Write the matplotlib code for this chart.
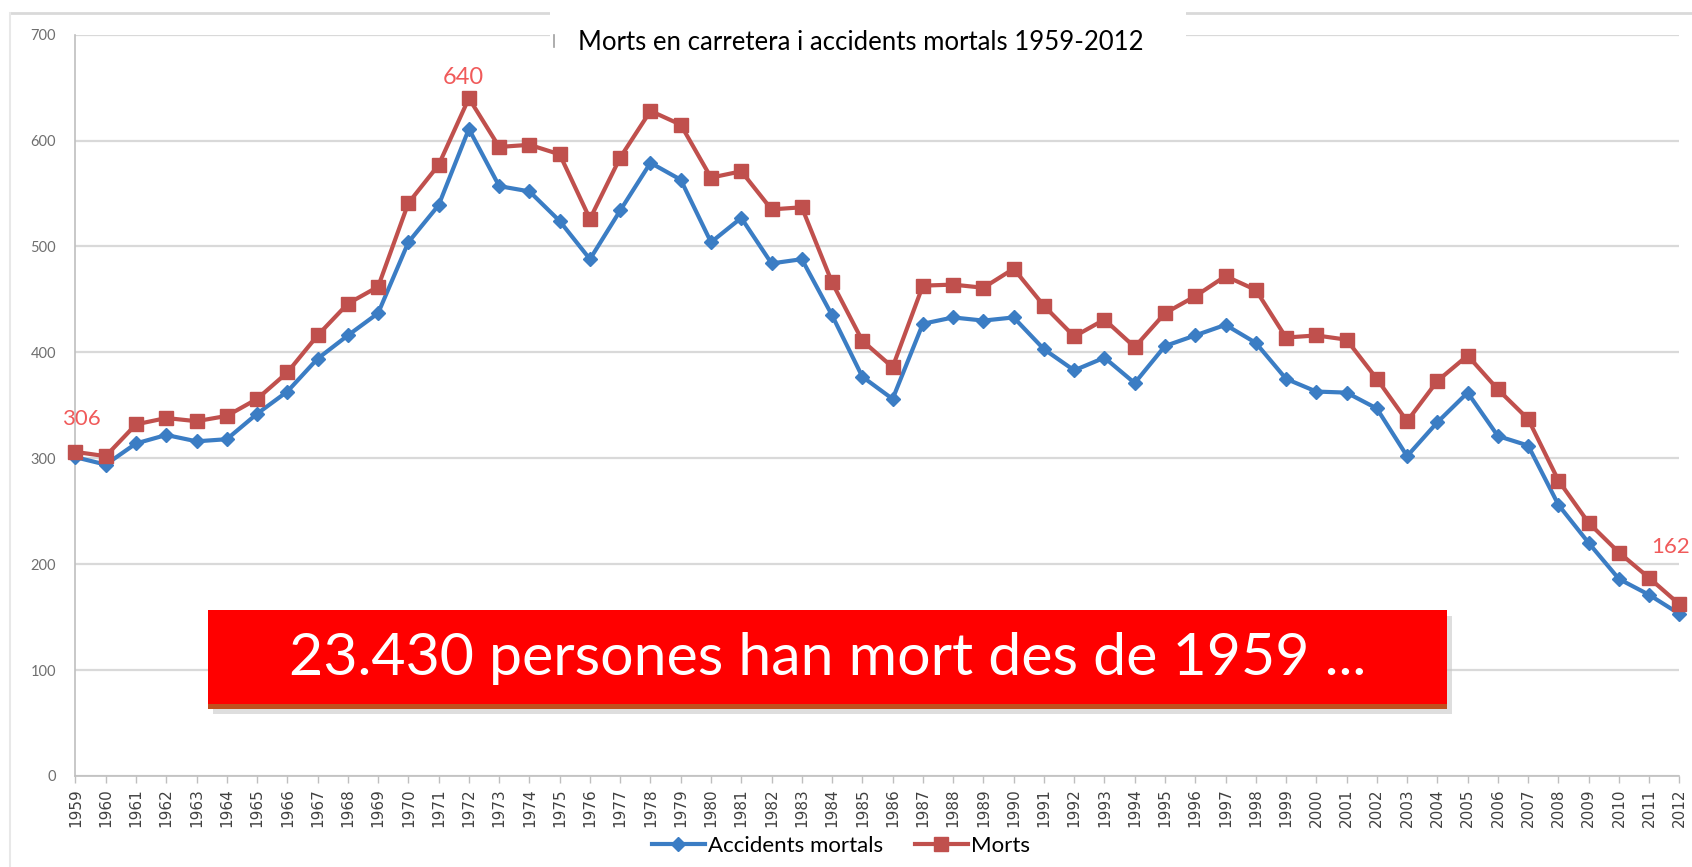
import matplotlib
matplotlib.use("Agg")
import matplotlib.pyplot as plt
from matplotlib.patches import Rectangle
from matplotlib.lines import Line2D

plt.rcParams["font.family"] = ["Lato", "DejaVu Sans"]

years = list(range(1959, 2013))
morts = [306, 302, 332, 338, 335, 340, 356, 381, 416, 446, 462, 541, 577, 640,
         594, 596, 587, 526, 584, 628, 615, 565, 571, 535, 537, 466, 411, 386,
         463, 464, 461, 479, 444, 415, 431, 405, 437, 453, 472, 459, 414, 416,
         412, 375, 335, 373, 397, 365, 337, 279, 239, 211, 187, 162]
accidents = [301, 294, 314, 322, 316, 318, 342, 363, 394, 416, 437, 504, 539, 611,
             557, 552, 524, 488, 534, 579, 563, 504, 527, 484, 488, 435, 377, 356,
             427, 433, 430, 433, 403, 383, 395, 371, 406, 416, 426, 409, 375, 363,
             362, 347, 302, 334, 362, 321, 312, 256, 220, 186, 171, 153]

title = "Morts en carretera i accidents mortals 1959-2012"
banner = "23.430 persones han mort des de 1959 ..."

blue = "#3b7dc4"
red = "#c0504d"
note_red = "#f05a5a"
grid_grey = "#d9d9d9"

fig = plt.figure(figsize=(16.92, 8.67), dpi=100)
ax = fig.add_axes([0.0446, 0.105, 0.948, 0.855])

ax.plot(years, accidents, color=blue, lw=3, marker="D", ms=7.5, zorder=3,
        label="Accidents mortals", clip_on=False)
ax.plot(years, morts, color=red, lw=3, marker="s", ms=10, zorder=4,
        label="Morts", clip_on=False)

ax.set_xlim(1959, 2012)
ax.set_ylim(0, 700)
ax.set_yticks(range(0, 701, 100))
ax.set_xticks(years)
ax.set_xticklabels([str(y) for y in years], rotation=90, fontsize=11,
                   color="#404040", family="DejaVu Sans")
ax.tick_params(axis="y", length=0, pad=14, labelsize=10.5, labelcolor="#6f6f6f")
ax.tick_params(axis="x", length=5, width=1, color="#bfbfbf", pad=4)
ax.grid(axis="y", color=grid_grey, lw=1.6)
ax.set_axisbelow(True)
for side in ["top", "right"]:
    ax.spines[side].set_visible(False)
ax.spines["left"].set_color("#bfbfbf")
ax.spines["bottom"].set_color("#bfbfbf")
ax.spines["left"].set_linewidth(1.2)
ax.spines["bottom"].set_linewidth(1.2)

# value labels
ax.text(1971.8, 660, "640", color=note_red, fontsize=17, ha="center", va="center")
ax.text(1959.2, 337, "306", color=note_red, fontsize=16, ha="center", va="center")
ax.text(2011.05, 216, "162", color=note_red, fontsize=16, ha="left", va="center")

# chart border remnants
fig.add_artist(Line2D([0.006, 1.0], [0.985, 0.985], color=grid_grey, lw=2))
fig.add_artist(Line2D([0.006, 0.006], [0.0, 0.985], color="#e8e8e8", lw=1.5))

# title box
fig.add_artist(Rectangle((0.325, 0.937), 0.376, 0.052, facecolor="white",
                         edgecolor="none", zorder=5))
fig.add_artist(Line2D([0.3275, 0.3275], [0.946, 0.960], color="#a0a0a0", lw=1.2, zorder=6))
fig.text(0.509, 0.951, title, ha="center", va="center", fontsize=18.5, color="black", zorder=7)

# red banner with shadow
fig.add_artist(Rectangle((0.126, 0.176), 0.732, 0.114, facecolor="#c8c8c8",
                         edgecolor="none", alpha=0.6, zorder=5))
fig.add_artist(Rectangle((0.123, 0.182), 0.732, 0.114, facecolor="#c0501e",
                         edgecolor="none", zorder=6))
fig.add_artist(Rectangle((0.123, 0.188), 0.732, 0.108, facecolor="#ff0000",
                         edgecolor="none", zorder=7))
fig.text(0.489, 0.241, banner, ha="center", va="center", fontsize=42.5,
         color="white", zorder=8)

fig.legend(loc="lower center", bbox_to_anchor=(0.497, -0.01), ncol=2, frameon=False,
           fontsize=16, handlelength=2.4, columnspacing=1.4, handletextpad=0.15)

fig.savefig("out.png", dpi=100)
